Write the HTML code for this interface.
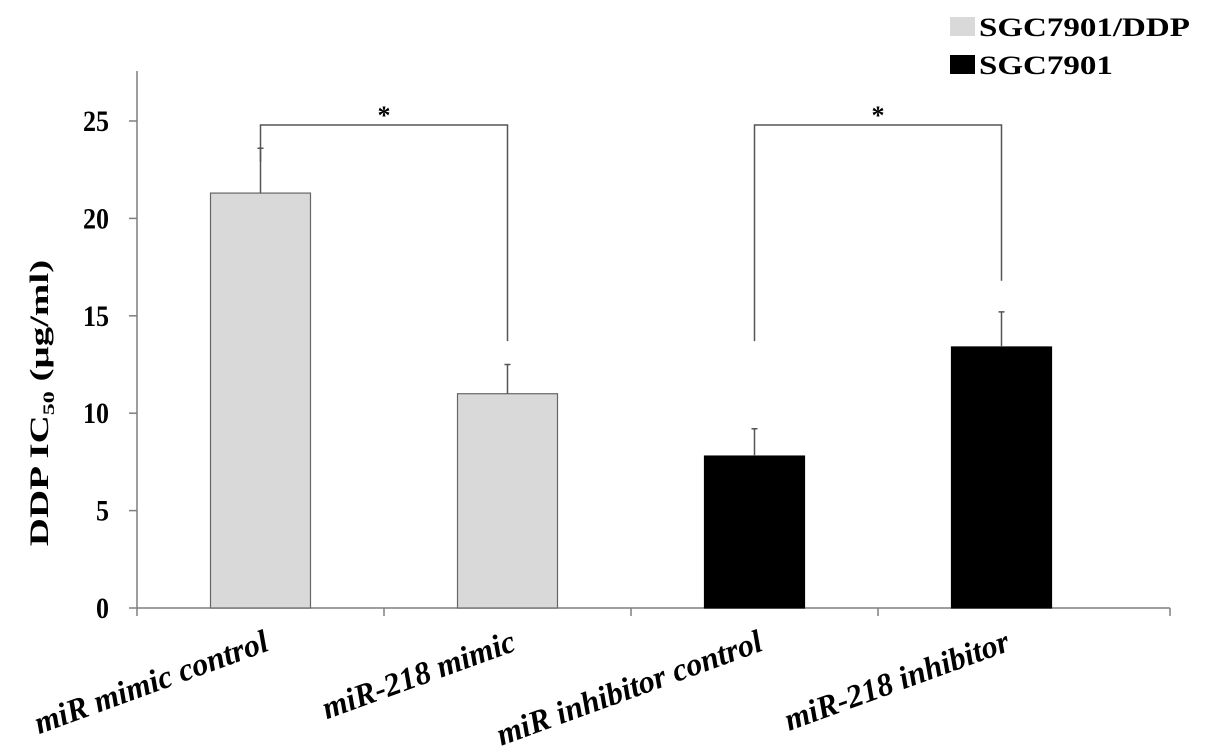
<!DOCTYPE html>
<html><head><meta charset="utf-8"><style>
body{margin:0;background:#fff;}
svg{display:block;font-family:"Liberation Serif",serif;}
</style></head><body>
<svg id="chart" width="1205" height="752" viewBox="0 0 1205 752" xmlns="http://www.w3.org/2000/svg">
<g id="legend">
 <g><rect x="950" y="17" width="25" height="19" fill="#d9d9d9"/><text transform="translate(979,36) scale(1.27,1)" font-size="26" font-weight="bold">SGC7901/DDP</text></g>
 <g><rect x="950" y="55" width="25" height="19" fill="#000"/><text transform="translate(979,74) scale(1.27,1)" font-size="26" font-weight="bold">SGC7901</text></g>
</g>
<text transform="translate(48,403) rotate(-90) scale(1.5,1)" text-anchor="middle" font-size="26" font-weight="bold">DDP IC<tspan font-size="16" dy="6">50</tspan><tspan dy="-6"> (μg/ml)</tspan></text>
<g id="plot"></g>
</svg>
<script>
const categories=["miR mimic control","miR-218 mimic","miR inhibitor control","miR-218 inhibitor"];
const values=[21.3,11.0,7.8,13.4];
const errors=[2.3,1.5,1.4,1.8];
const series=["SGC7901/DDP","SGC7901/DDP","SGC7901","SGC7901"];
const yTicks=[0,5,10,15,20,25];
const sigPairs=[[0,1],[2,3]];
const sigEnd=[[22.9,13.7],[13.7,16.8]];

const NS="http://www.w3.org/2000/svg";
const g=document.getElementById('plot');
const x0=137,catW=247,axisEnd=1170,y0=608,pxPerUnit=(608-121)/25,barW=100;
const y=v=>y0-v*pxPerUnit;
const xc=i=>x0+catW*(i+0.5);
function el(t,a){const e=document.createElementNS(NS,t);for(const k in a)e.setAttribute(k,a[k]);g.appendChild(e);return e;}
const st="#7f7f7f";
let ax=el('line',{x1:x0,y1:y(25)-50,x2:x0,y2:y0,stroke:st,'stroke-width':1.5});


let xa=el('line',{x1:x0,y1:y0,x2:axisEnd,y2:y0,stroke:st,'stroke-width':1.5});


yTicks.forEach(t=>{
 let l=el('line',{x1:x0-8,y1:y(t),x2:x0,y2:y(t),stroke:st,'stroke-width':1.5});
 
 
 let tx=el('text',{transform:`translate(${x0-28},${y(t)+10}) scale(1,1.15)`,'text-anchor':'end','font-size':26,'font-weight':'bold'});
 tx.textContent=t;
 
 
});
const xt=[0,1,2,3].map(i=>x0+catW*i).concat([axisEnd]);
xt.forEach(p=>{let l=el('line',{x1:p,y1:y0,x2:p,y2:y0+8,stroke:st,'stroke-width':1.5});
 
 });
categories.forEach((c,i)=>{
 const fill=series[i]==="SGC7901"?"#000":"#d9d9d9";
 let r=el('rect',{x:xc(i)-barW/2,y:y(values[i]),width:barW,height:y0-y(values[i]),fill:fill,stroke:series[i]==="SGC7901"?"#000":"#666",'stroke-width':1.2});
 
 
 let e=el('path',{d:`M${xc(i)} ${y(values[i])}V${y(values[i]+errors[i])}M${xc(i)-3} ${y(values[i]+errors[i])}H${xc(i)+3}`,stroke:"#555",'stroke-width':1.5,fill:'none'});
 
 
 let tx=el('text',{transform:`translate(${xc(i)+10},${y0+42}) rotate(-20) scale(1.14,1.15)`,'text-anchor':'end','font-size':28,'font-weight':'bold','font-style':'italic'});
 tx.textContent=c;
 
 
});
sigPairs.forEach((p,k)=>{
 const a=xc(p[0]),b=xc(p[1]),top=125;
 let br=el('path',{d:`M${a} ${y(sigEnd[k][0])}V${top}H${b}V${y(sigEnd[k][1])}`,stroke:"#555",'stroke-width':1.5,fill:'none'});
 
 
 let s=el('text',{x:(a+b)/2,y:top-1,'text-anchor':'middle','font-size':26,'font-weight':'bold'});
 s.textContent='*';
 
 
});
</script>
</body></html>
